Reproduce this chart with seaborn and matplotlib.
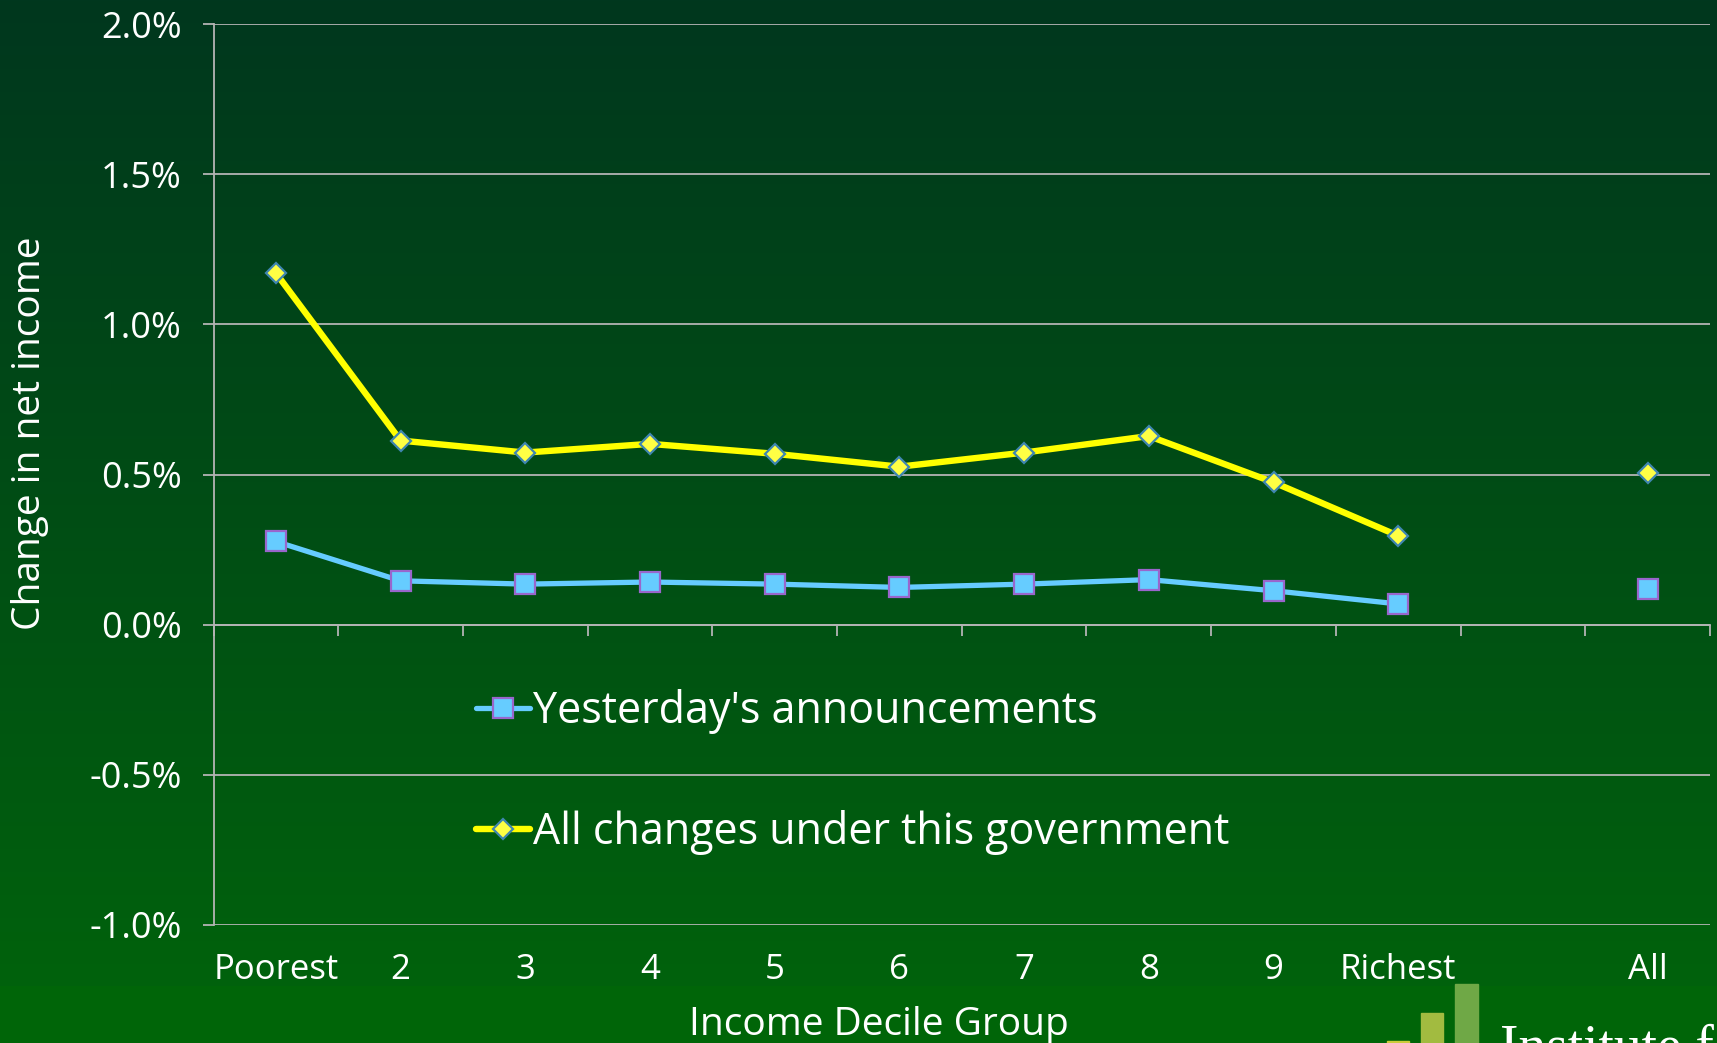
import numpy as np
import matplotlib
matplotlib.use("Agg")
import matplotlib.pyplot as plt
from matplotlib.patches import Rectangle
from matplotlib.ticker import FuncFormatter
import seaborn as sns

# Income decile groups (slot 10 is an empty gap before "All")
categories = ["Poorest", "2", "3", "4", "5", "6", "7", "8", "9", "Richest", "", "All"]

# Change in net income, % by decile
yesterday = [0.277, 0.146, 0.135, 0.142, 0.135, 0.124, 0.135, 0.150, 0.113, 0.069]
yesterday_all = [0.120]
all_changes = [1.171, 0.613, 0.573, 0.602, 0.569, 0.526, 0.573, 0.628, 0.474, 0.296]
all_changes_all = [0.504]

y_ticks = [-1.0, -0.5, 0.0, 0.5, 1.0, 1.5, 2.0]
series_names = ["Yesterday's announcements", "All changes under this government"]

sns.set_theme(style="white")
plt.rcParams["font.family"] = ["Open Sans", "DejaVu Sans"]

W, H = 1717, 1043
fig = plt.figure(figsize=(W / 100, H / 100), dpi=100)

# Background: vertical green gradient with a brighter footer band
bg = fig.add_axes([0, 0, 1, 1], zorder=-10)
rows = np.arange(H)
top_c = np.array([0, 55, 30]) / 255
bot_c = np.array([0, 98, 12]) / 255
band_c = np.array([0, 101, 8]) / 255
t = np.clip(rows / 986, 0, 1)[:, None]
grad = top_c * (1 - t) + bot_c * t
grad[rows >= 986] = band_c
bg.imshow(grad[:, None, :], aspect="auto", extent=[0, 1, 0, 1], origin="upper")
bg.set_axis_off()

# Logo bars in the bottom-right corner
for x0, x1, ytop, col in [(1387, 1409, 1041, "#cccc3a"),
                          (1421, 1443, 1013, "#a2bb40"),
                          (1455, 1478, 984, "#6fa846")]:
    fig.patches.append(Rectangle((x0 / W, 0), (x1 - x0) / W, (H - ytop) / H,
                                 transform=fig.transFigure, color=col, zorder=-5))
fig.text(1500 / W, 1 - 1064 / H, "Institute for Fiscal Studies", family="Liberation Serif",
         fontsize=40, color="white", ha="left", va="baseline")

left, right, top, bottom = 213.5 / W, 1710 / W, 1 - 24 / H, 1 - 925 / H
ax = fig.add_axes([left, bottom, right - left, top - bottom])
ax.set_facecolor("none")

grid_c = "#b4b4b4"
white = "white"

pos_dec = np.arange(10)
pos_all = [11]

sns.lineplot(x=pos_dec, y=yesterday, ax=ax, color="#66ccff", lw=3.8, marker="s",
             markersize=15, markerfacecolor="#66ccff", markeredgecolor="#9966cc",
             markeredgewidth=1.6, label=series_names[0], zorder=4)
sns.lineplot(x=pos_dec, y=all_changes, ax=ax, color="#ffff00", lw=4.6, marker="D",
             markersize=9.8, markerfacecolor="#ffff44", markeredgecolor="#3f86b0",
             markeredgewidth=1.6, label=series_names[1], zorder=5)
ax.plot(pos_all, yesterday_all, ls="none", marker="s", markersize=15,
        markerfacecolor="#66ccff", markeredgecolor="#9966cc", markeredgewidth=1.6, zorder=4)
ax.plot(pos_all, all_changes_all, ls="none", marker="D", markersize=9.8,
        markerfacecolor="#ffff44", markeredgecolor="#3f86b0", markeredgewidth=1.6, zorder=5)

ax.set_xlim(-0.5, 11.5)
ax.set_ylim(-1.0, 2.0)
ax.set_yticks(y_ticks)
ax.yaxis.set_major_formatter(FuncFormatter(lambda v, _: f"{v:.1f}%"))
for yv in y_ticks:
    ax.axhline(yv, color=grid_c, lw=1.3, zorder=1)

ax.set_xticks(range(len(categories)))
ax.set_xticklabels(categories)
ax.tick_params(axis="x", length=0, pad=20, labelsize=25, labelcolor=white)
ax.tick_params(axis="y", length=8, width=1.3, color=grid_c, direction="out",
               pad=15, labelsize=26, labelcolor=white, left=True)
for s in ["top", "right"]:
    ax.spines[s].set_visible(False)
ax.spines["bottom"].set_visible(False)
ax.spines["left"].set_color(grid_c)
ax.spines["left"].set_linewidth(1.3)
ax.set_xlabel("")
ax.set_ylabel("")

# Category boundary ticks along the zero line
sec = ax.secondary_xaxis(1 / 3)
sec.set_xticks(np.arange(-0.5, 12, 1.0))
sec.tick_params(axis="x", length=8, width=1.3, color=grid_c, direction="out", labelbottom=False)
sec.spines["bottom"].set_color(grid_c)
sec.spines["bottom"].set_linewidth(1.3)

fig.text(879 / W, 1 - 1025 / H, "Income Decile Group", ha="center", va="center",
         fontsize=28, color=white)
fig.text(30 / W, 1 - 433 / H, "Change in net income", ha="center", va="center",
         rotation=90, fontsize=28, color=white)

leg = ax.legend(loc="center left", bbox_to_anchor=(476 / W, 1 - 772 / H),
                bbox_transform=fig.transFigure, frameon=False, fontsize=31,
                handlelength=1.25, handletextpad=0.08, labelspacing=1.75,
                borderpad=0, borderaxespad=0)
for txt in leg.get_texts():
    txt.set_color(white)

fig.savefig("out.png", dpi=100)
